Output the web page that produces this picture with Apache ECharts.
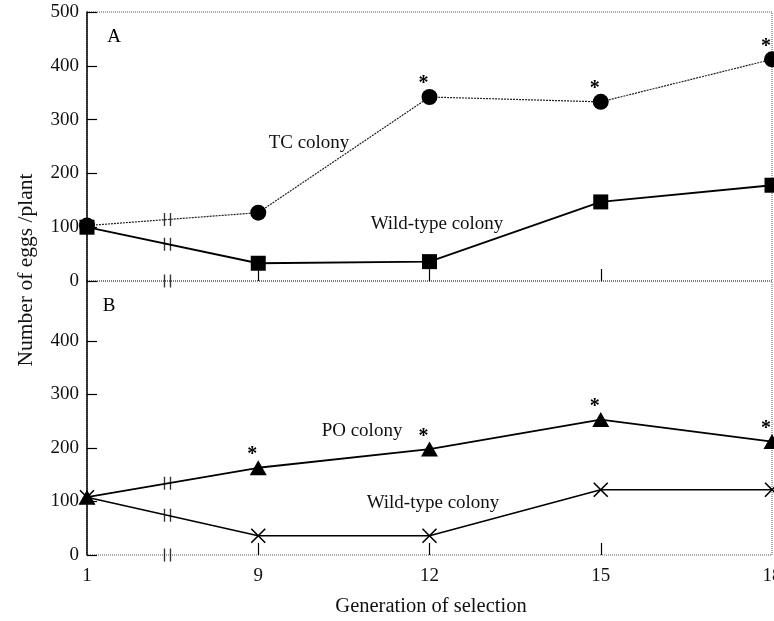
<!DOCTYPE html>
<html>
<head>
<meta charset="utf-8">
<script src="https://cdn.jsdelivr.net/npm/echarts@6/dist/echarts.min.js"></script>
<style>
  html, body { margin: 0; padding: 0; background: #fff; }
  #chart { width: 774px; height: 621px; }
</style>
</head>
<body>
<div id="chart"></div>
<script>
// Generations of selection (x positions are evenly spaced, with a break between 1 and 9)
const generations = ['1', '9', '12', '15', '18'];
const genIndex = [0, 1, 2, 3, 4];

// Panel A: TC colony vs wild-type colony (eggs per plant)
const tcColony = [103, 127, 342, 333, 412];
const wildTypeA = [100, 33, 36, 147, 178];
const tcSignificant = [false, false, true, true, true];

// Panel B: PO colony vs wild-type colony (eggs per plant)
const poColony = [108, 163, 198, 253, 212];
const wildTypeB = [108, 36, 36, 122, 122];
const poSignificant = [false, true, true, true, true];

// Y tick labels for each panel
const yTicksA = [0, 100, 200, 300, 400, 500];
const yTicksB = [0, 100, 200, 300, 400];

const FONT = '"Liberation Serif", "DejaVu Serif", serif';
const breakSymbol = 'path://M0,0L0,10M4,0L4,10';
const BREAK_AT = 0.47;

function points(values, sig) {
  return genIndex.map((x, i) => {
    const item = { value: [x, values[i]] };
    if (sig && sig[i]) {
      item.label = { show: true };
    }
    return item;
  });
}

const starLabel = {
  show: false,
  formatter: '*',
  position: 'top',
  distance: 0,
  offset: [-6, 5],
  fontFamily: FONT,
  fontSize: 20,
  fontWeight: 'bold',
  color: '#000'
};

function xAxisFor(gridIndex, showLabels) {
  return {
    type: 'value',
    gridIndex: gridIndex,
    min: 0,
    max: 4,
    interval: 1,
    axisLine: { show: false },
    splitLine: { show: false },
    axisTick: {
      show: true,
      inside: true,
      length: 12,
      customValues: [1, 2, 3],
      lineStyle: { color: '#000', width: 1.2 }
    },
    axisLabel: {
      show: showLabels,
      customValues: genIndex,
      formatter: v => generations[v],
      fontFamily: FONT,
      fontSize: 19,
      color: '#111',
      margin: 12
    }
  };
}

function yAxisFor(gridIndex, max, ticks) {
  return {
    type: 'value',
    gridIndex: gridIndex,
    min: 0,
    max: max,
    interval: 100,
    axisLine: { show: true, lineStyle: { color: '#000', width: 1.5 } },
    splitLine: { show: false },
    axisTick: {
      show: true,
      inside: true,
      length: 10,
      customValues: ticks,
      lineStyle: { color: '#000', width: 1.2 }
    },
    axisLabel: {
      customValues: ticks,
      fontFamily: FONT,
      fontSize: 19,
      color: '#111',
      margin: 8
    }
  };
}

// break marks drawn on the x axis and across each line's first (compressed) span
function breakMarks(xi, yi, firstSpans) {
  const data = [[BREAK_AT, 0]].concat(firstSpans.map(v => [BREAK_AT, v[0] + (v[1] - v[0]) * BREAK_AT]));
  return {
    type: 'scatter',
    xAxisIndex: xi,
    yAxisIndex: yi,
    symbol: breakSymbol,
    symbolSize: [6, 13],
    itemStyle: { color: 'none', borderColor: '#000', borderWidth: 2 },
    z: 5,
    silent: true,
    data: data
  };
}

const gridBase = {
  left: 87, right: 2,
  show: true, borderColor: '#555', borderWidth: 1, borderType: 'dotted',
  backgroundColor: 'transparent',
  outerBoundsMode: 'none',
  containLabel: false
};

const chart = echarts.init(document.getElementById('chart'), null, { renderer: 'canvas' });

chart.setOption({
  animation: false,
  backgroundColor: '#fff',
  grid: [
    Object.assign({}, gridBase, { top: 12, height: 269 }),
    Object.assign({}, gridBase, { top: 281, height: 274 })
  ],
  xAxis: [xAxisFor(0, false), xAxisFor(1, true)],
  yAxis: [yAxisFor(0, 500, yTicksA), yAxisFor(1, 512, yTicksB)],
  series: [
    {
      name: 'TC colony',
      type: 'line',
      xAxisIndex: 0, yAxisIndex: 0,
      symbol: 'circle', symbolSize: 16,
      itemStyle: { color: '#000' },
      lineStyle: { color: '#222', width: 1.2, type: [2, 1] },
      label: starLabel,
      data: points(tcColony, tcSignificant),
      z: 3
    },
    {
      name: 'Wild-type colony A',
      type: 'line',
      xAxisIndex: 0, yAxisIndex: 0,
      symbol: 'rect', symbolSize: 15,
      itemStyle: { color: '#000' },
      lineStyle: { color: '#000', width: 1.8 },
      data: points(wildTypeA),
      z: 4
    },
    breakMarks(0, 0, [[tcColony[0], tcColony[1]], [wildTypeA[0], wildTypeA[1]]]),
    {
      name: 'PO colony',
      type: 'line',
      xAxisIndex: 1, yAxisIndex: 1,
      symbol: 'triangle', symbolSize: [17, 15],
      itemStyle: { color: '#000' },
      lineStyle: { color: '#000', width: 1.8 },
      label: starLabel,
      data: points(poColony, poSignificant),
      z: 4
    },
    {
      name: 'Wild-type colony B',
      type: 'line',
      xAxisIndex: 1, yAxisIndex: 1,
      symbol: 'path://M0,0L10,10M10,0L0,10',
      symbolSize: 14,
      itemStyle: { color: 'none', borderColor: '#000', borderWidth: 1.6 },
      lineStyle: { color: '#000', width: 1.6 },
      data: points(wildTypeB),
      z: 3
    },
    breakMarks(1, 1, [[poColony[0], poColony[1]], [wildTypeB[0], wildTypeB[1]]])
  ],
  graphic: [
    { type: 'text', x: 114, y: 37, style: { text: 'A', font: '19px ' + FONT, fill: '#000', align: 'center', verticalAlign: 'middle' } },
    { type: 'text', x: 109, y: 306, style: { text: 'B', font: '19px ' + FONT, fill: '#000', align: 'center', verticalAlign: 'middle' } },
    { type: 'text', x: 309, y: 143, style: { text: 'TC colony', font: '19px ' + FONT, fill: '#111', align: 'center', verticalAlign: 'middle' } },
    { type: 'text', x: 437, y: 224, style: { text: 'Wild-type colony', font: '19px ' + FONT, fill: '#111', align: 'center', verticalAlign: 'middle' } },
    { type: 'text', x: 362, y: 431, style: { text: 'PO colony', font: '19px ' + FONT, fill: '#111', align: 'center', verticalAlign: 'middle' } },
    { type: 'text', x: 433, y: 503, style: { text: 'Wild-type colony', font: '19px ' + FONT, fill: '#111', align: 'center', verticalAlign: 'middle' } },
    { type: 'text', x: 26, y: 270, rotation: Math.PI / 2, style: { text: 'Number of eggs /plant', font: '21.5px ' + FONT, fill: '#111', align: 'center', verticalAlign: 'middle' } },
    { type: 'text', x: 431, y: 607, style: { text: 'Generation of selection', font: '20.5px ' + FONT, fill: '#111', align: 'center', verticalAlign: 'middle' } }
  ]
});
</script>
</body>
</html>
